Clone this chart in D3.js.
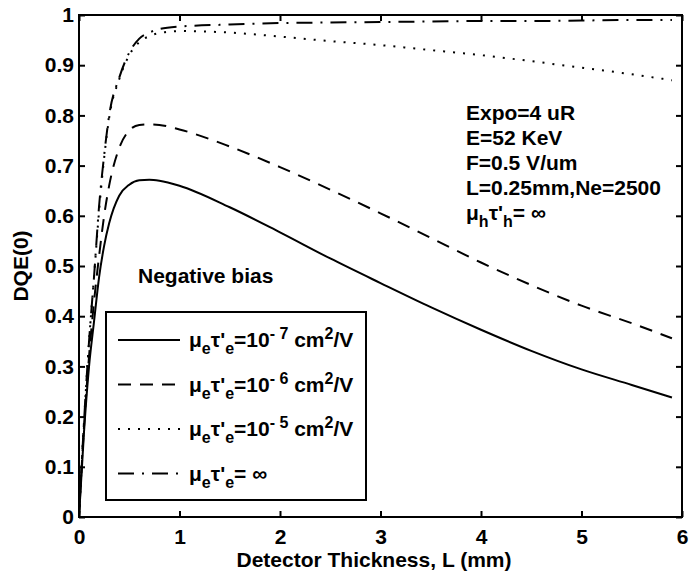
<!DOCTYPE html>
<html>
<head>
<meta charset="utf-8">
<script src="https://cdn.jsdelivr.net/npm/d3@7"></script>
<style>
  html, body { margin: 0; padding: 0; background: #fff; }
  svg text { font-family: "Liberation Sans", Arial, Helvetica, sans-serif; font-weight: bold; fill: #000; }
</style>
</head>
<body>
<svg id="chart" width="691" height="579"></svg>
<script>
// ---------------- data ----------------
const thickness = [0, 0.05, 0.1, 0.15, 0.2, 0.25, 0.3, 0.4, 0.5, 0.6, 0.7, 0.8, 1.0, 1.5, 2.0, 2.5, 3.0, 3.5, 4.0, 4.5, 5.0, 5.5, 5.9];
const dqeMuTau1e7 = [0, 0.17, 0.30, 0.39, 0.478, 0.54, 0.585, 0.64, 0.662, 0.671, 0.672, 0.670, 0.66, 0.617, 0.567, 0.515, 0.466, 0.418, 0.373, 0.331, 0.294, 0.263, 0.238];
const dqeMuTau1e6 = [0, 0.18, 0.32, 0.43, 0.52, 0.60, 0.66, 0.735, 0.77, 0.781, 0.782, 0.781, 0.772, 0.738, 0.697, 0.652, 0.605, 0.556, 0.507, 0.462, 0.421, 0.386, 0.356];
const dqeMuTau1e5 = [0, 0.19, 0.35, 0.48, 0.61, 0.715, 0.795, 0.872, 0.92, 0.946, 0.958, 0.964, 0.968, 0.965, 0.957, 0.948, 0.94, 0.93, 0.92, 0.908, 0.895, 0.882, 0.870];
const dqeMuTauInf = [0, 0.19, 0.35, 0.48, 0.62, 0.72, 0.80, 0.875, 0.925, 0.953, 0.965, 0.972, 0.977, 0.981, 0.984, 0.985, 0.986, 0.987, 0.988, 0.988, 0.989, 0.99, 0.99];

const xTicks = [0, 1, 2, 3, 4, 5, 6];
const xTickLabels = ["0", "1", "2", "3", "4", "5", "6"];
const yTicks = [0, 0.1, 0.2, 0.3, 0.4, 0.5, 0.6, 0.7, 0.8, 0.9, 1];
const yTickLabels = ["0", "0.1", "0.2", "0.3", "0.4", "0.5", "0.6", "0.7", "0.8", "0.9", "1"];

const legendExponents = ["-7", "-6", "-5", null];
const annotationLines = ["Expo=4 uR", "E=52 KeV", "F=0.5 V/um", "L=0.25mm,Ne=2500"];

// ---------------- layout ----------------
const svg = d3.select("#chart");
const pL = 79, pR = 682, pT = 15, pB = 517;
const x = d3.scaleLinear().domain([0, 6]).range([pL, pR]);
const y = d3.scaleLinear().domain([0, 1]).range([pB, pT]);
const FS = 21, SS = 16;

const seriesList = [
  { values: dqeMuTau1e7, dash: null },
  { values: dqeMuTau1e6, dash: "13,9" },
  { values: dqeMuTau1e5, dash: "2,8" },
  { values: dqeMuTauInf, dash: "16,8,2,8" }
];

const line = d3.line().x(d => x(d[0])).y(d => y(d[1])).curve(d3.curveMonotoneX);

const clip = svg.append("defs").append("clipPath").attr("id", "plotclip");
clip.append("rect").attr("x", pL).attr("y", pT - 2).attr("width", pR - pL).attr("height", pB - pT + 2);

const curves = svg.append("g").attr("clip-path", "url(#plotclip)");
seriesList.forEach(s => {
  curves.append("path")
    .datum(thickness.map((t, i) => [t, s.values[i]]))
    .attr("d", line)
    .attr("fill", "none")
    .attr("stroke", "#000")
    .attr("stroke-width", 2)
    .attr("stroke-dasharray", s.dash);
});

// axes with inward ticks on all four sides
function styleAxis(g) {
  g.select(".domain").remove();
  g.selectAll(".tick line").attr("stroke", "#000").attr("stroke-width", 2);
  g.selectAll(".tick text").style("font-size", FS + "px").style("font-weight", "bold").attr("fill", "#000");
}
svg.append("g").attr("transform", `translate(0,${pB})`)
  .call(d3.axisBottom(x).tickValues(xTicks).tickFormat((d, i) => xTickLabels[i]).tickSizeInner(-6).tickSizeOuter(0).tickPadding(12))
  .call(styleAxis);
svg.append("g").attr("transform", `translate(0,${pT})`)
  .call(d3.axisTop(x).tickValues(xTicks).tickFormat("").tickSizeInner(-6).tickSizeOuter(0))
  .call(styleAxis);
svg.append("g").attr("transform", `translate(${pL},0)`)
  .call(d3.axisLeft(y).tickValues(yTicks).tickFormat((d, i) => yTickLabels[i]).tickSizeInner(-6).tickSizeOuter(0).tickPadding(5))
  .call(styleAxis);
svg.append("g").attr("transform", `translate(${pR},0)`)
  .call(d3.axisRight(y).tickValues(yTicks).tickFormat("").tickSizeInner(-6).tickSizeOuter(0))
  .call(styleAxis);

svg.append("rect").attr("x", pL).attr("y", pT).attr("width", pR - pL).attr("height", pB - pT)
  .attr("fill", "none").attr("stroke", "#000").attr("stroke-width", 2);

// axis titles
svg.append("text").attr("x", 374).attr("y", 567).attr("text-anchor", "middle")
  .style("font-size", FS + "px").text("Detector Thickness, L (mm)");
svg.append("text").attr("transform", `translate(28,${(pT + pB) / 2}) rotate(-90)`).attr("text-anchor", "middle")
  .style("font-size", FS + "px").text("DQE(0)");

// annotation block
const ann = svg.append("g");
annotationLines.forEach((t, i) => {
  ann.append("text").attr("x", 466).attr("y", 120 + i * 25).style("font-size", FS + "px").text(t);
});
const muh = ann.append("text").attr("x", 466).attr("y", 120 + 4 * 25).style("font-size", FS + "px");
muh.append("tspan").text("μ");
muh.append("tspan").attr("dy", 7).style("font-size", SS + "px").text("h");
muh.append("tspan").attr("dy", -7).text("τ'");
muh.append("tspan").attr("dy", 7).style("font-size", SS + "px").text("h");
muh.append("tspan").attr("dy", -7).text("= ∞");

// negative bias label
svg.append("text").attr("x", 138).attr("y", 283).style("font-size", FS + "px").text("Negative bias");

// legend
const lg = svg.append("g");
lg.append("rect").attr("x", 106).attr("y", 312).attr("width", 260).attr("height", 188)
  .attr("fill", "#fff").attr("stroke", "#000").attr("stroke-width", 2);
seriesList.forEach((s, i) => {
  const ly = 340 + i * 44.5;
  lg.append("line").attr("x1", 118).attr("x2", 180).attr("y1", ly).attr("y2", ly)
    .attr("stroke", "#000").attr("stroke-width", 2).attr("stroke-dasharray", s.dash);
  const t = lg.append("text").attr("x", 189).attr("y", ly + 7).style("font-size", FS + "px");
  t.append("tspan").text("μ");
  t.append("tspan").attr("dy", 7).style("font-size", SS + "px").text("e");
  t.append("tspan").attr("dy", -7).text("τ'");
  t.append("tspan").attr("dy", 7).style("font-size", SS + "px").text("e");
  const ex = legendExponents[i];
  if (ex) {
    t.append("tspan").attr("dy", -7).text("=10");
    t.append("tspan").attr("dy", -8).style("font-size", SS + "px").text(ex.replace("-", "- "));
    t.append("tspan").attr("dy", 8).text(" cm");
    t.append("tspan").attr("dy", -8).style("font-size", SS + "px").text("2");
    t.append("tspan").attr("dy", 8).text("/V");
  } else {
    t.append("tspan").attr("dy", -7).text("= ∞");
  }
});
</script>
</body>
</html>
